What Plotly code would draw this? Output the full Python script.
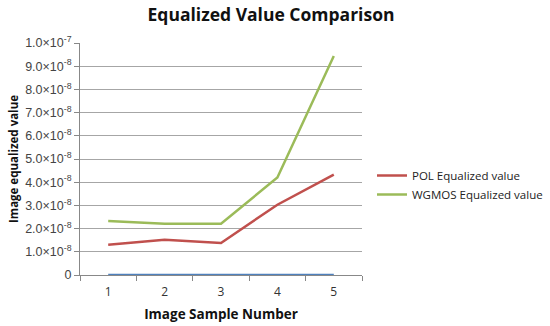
import plotly.graph_objects as go

categories = ["1", "2", "3", "4", "5"]
pol_values = [1.30e-8, 1.52e-8, 1.38e-8, 3.03e-8, 4.33e-8]
wgmos_values = [2.33e-8, 2.21e-8, 2.21e-8, 4.2e-8, 9.44e-8]
base_values = [0, 0, 0, 0, 0]
ytick_vals = [0, 1e-8, 2e-8, 3e-8, 4e-8, 5e-8, 6e-8, 7e-8, 8e-8, 9e-8, 1e-7]
ytick_text = ["0"] + [f"{i}.0×10<sup>-8</sup>" for i in range(1, 10)] + ["1.0×10<sup>-7</sup>"]

fig = go.Figure()
fig.add_trace(go.Scatter(x=categories, y=base_values, mode="lines", name="Base",
                         line=dict(color="#4F81BD", width=2.5), showlegend=False))
fig.add_trace(go.Scatter(x=categories, y=pol_values, mode="lines", name="POL Equalized value",
                         line=dict(color="#C0504D", width=2.5)))
fig.add_trace(go.Scatter(x=categories, y=wgmos_values, mode="lines", name="WGMOS Equalized value",
                         line=dict(color="#9BBB59", width=2.5)))

fig.update_layout(
    width=550, height=326,
    margin=dict(l=80, r=188, t=43, b=51, autoexpand=False),
    paper_bgcolor="white", plot_bgcolor="white",
    title=dict(text="<b>Equalized Value Comparison</b>", x=271/550, xanchor="center",
               y=1-15/326, yanchor="middle",
               font=dict(family="Open Sans", size=17.5, color="#111111")),
    font=dict(family="Liberation Sans, Arial", size=11, color="#333333"),
    legend=dict(x=372/550, y=1-161/326, xref="container", yref="container",
                xanchor="left", yanchor="top",
                font=dict(family="Open Sans", size=11.5, color="#222222"),
                tracegroupgap=6, itemwidth=30, bgcolor="rgba(0,0,0,0)"),
    showlegend=True,
)

fig.update_xaxes(
    type="category", tickson="boundaries", ticks="outside", ticklen=5, tickcolor="#888888",
    showline=True, linecolor="#888888", linewidth=1, showgrid=False, zeroline=False,
    range=[-0.5, 4.5], automargin=False, ticklabelstandoff=6,
    tickfont=dict(family="Open Sans", size=12, color="#333333"),
    title=dict(text="<b>Image Sample Number</b>", standoff=10,
               font=dict(family="Open Sans", size=13.5, color="#111111")),
)
fig.update_yaxes(
    range=[0, 1e-7], tickmode="array", tickvals=ytick_vals, ticktext=ytick_text,
    ticks="outside", ticklen=5, tickcolor="#888888", automargin=False,
    showline=True, linecolor="#888888", linewidth=1,
    showgrid=True, gridcolor="#A6A6A6", gridwidth=1, zeroline=False,
    tickfont=dict(family="Liberation Sans, Arial", size=12.5, color="#444444"),
    title=dict(text="<b>Image equalized value</b>", standoff=4,
               font=dict(family="Open Sans", size=11.5, color="#111111")),
)

fig.write_html("out.html", config={"displayModeBar": False},
               post_script="document.body.style.margin='0';document.body.style.overflow='hidden';")
